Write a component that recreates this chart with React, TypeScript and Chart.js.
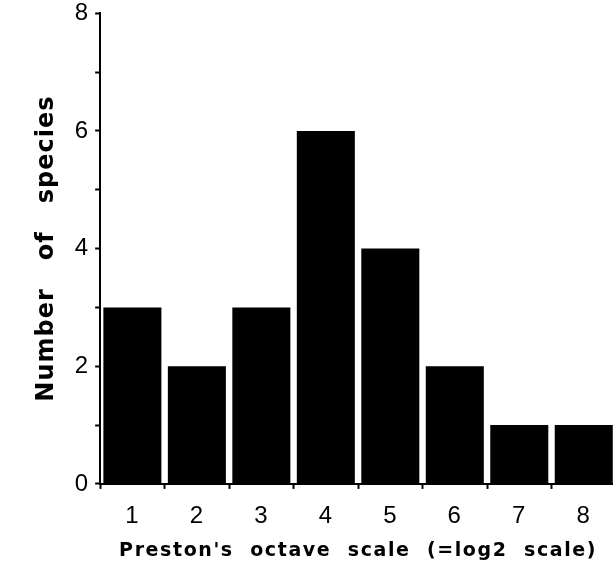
import React, { useEffect, useRef } from "react";
import { Chart, registerables } from "chart.js";

Chart.register(...registerables);

const categories = ["1", "2", "3", "4", "5", "6", "7", "8"];
const speciesCounts = [3, 2, 3, 6, 4, 2, 1, 1];
const yMajorTicks = [0, 2, 4, 6, 8];
const xTitle = "Preston's  octave  scale  (=log2  scale)";
const yTitle = "Number   of   species";

const spacingPlugin = {
  id: "letterSpacing",
  beforeLayout(chart: any) {
    (chart.ctx as any).letterSpacing = "1px";
  },
  afterLayout(chart: any) {
    const xs: any = chart.scales.x;
    if (xs && !xs.__wrapped) {
      const orig = xs.drawTitle.bind(xs);
      xs.drawTitle = (...args: any[]) => {
        const ctx: any = chart.ctx;
        const prev = ctx.letterSpacing;
        ctx.letterSpacing = "1.6px";
        orig(...args);
        ctx.letterSpacing = prev;
      };
      xs.__wrapped = true;
    }
  },
  beforeDraw(chart: any) {
    (chart.ctx as any).letterSpacing = "1px";
  },
};

export default function App() {
  const ref = useRef<HTMLCanvasElement | null>(null);

  useEffect(() => {
    if (!ref.current) return;
    const chart = new Chart(ref.current, {
      type: "bar",
      data: {
        labels: categories,
        datasets: [
          {
            data: speciesCounts,
            backgroundColor: "#000000",
            borderWidth: 0,
            categoryPercentage: 0.9,
            barPercentage: 1.0,
          },
        ],
      },
      plugins: [spacingPlugin],
      options: {
        animation: false,
        responsive: false,
        maintainAspectRatio: false,
        devicePixelRatio: 1,
        layout: { padding: { left: 32, right: 4, top: 1, bottom: 3 } },
        plugins: { legend: { display: false }, tooltip: { enabled: false } },
        scales: {
          x: {
            grid: {
              display: true,
              drawOnChartArea: false,
              drawTicks: true,
              tickLength: 5,
              tickColor: "#000",
              tickWidth: 2,
              offset: true,
            },
            border: { display: true, color: "#000", width: 2 },
            ticks: {
              color: "#000",
              padding: 15,
              font: { family: "Liberation Sans, Arial, sans-serif", size: 24, lineHeight: 1.0 },
            },
            title: {
              display: true,
              text: xTitle,
              color: "#000",
              padding: { top: 0, bottom: 0 },
              font: { family: "DejaVu Sans, sans-serif", size: 19, weight: "bold", lineHeight: 0.9 },
            },
          },
          y: {
            min: 0,
            max: 8,
            grid: {
              display: true,
              drawOnChartArea: false,
              drawTicks: true,
              tickLength: 5,
              tickColor: "#000",
              tickWidth: 2,
            },
            border: { display: true, color: "#000", width: 2 },
            ticks: {
              stepSize: 1,
              color: "#000",
              padding: 6,
              autoSkip: false,
              font: { family: "Liberation Sans, Arial, sans-serif", size: 24, lineHeight: 0.6 },
              callback: (v: any) => (yMajorTicks.includes(Number(v)) ? String(v) : ""),
            },
            title: {
              display: true,
              text: yTitle,
              color: "#000",
              padding: { top: 0, bottom: 8 },
              font: { family: "DejaVu Sans, sans-serif", size: 24, weight: "bold" },
            },
          },
        },
      },
    });
    return () => chart.destroy();
  }, []);

  return (
    <div style={{ position: "fixed", left: 0, top: 0, width: 613, height: 563, overflow: "hidden", background: "#fff" }}>
      <canvas ref={ref} width={620} height={563} style={{ display: "block", width: 620, height: 563 }} />
    </div>
  );
}
